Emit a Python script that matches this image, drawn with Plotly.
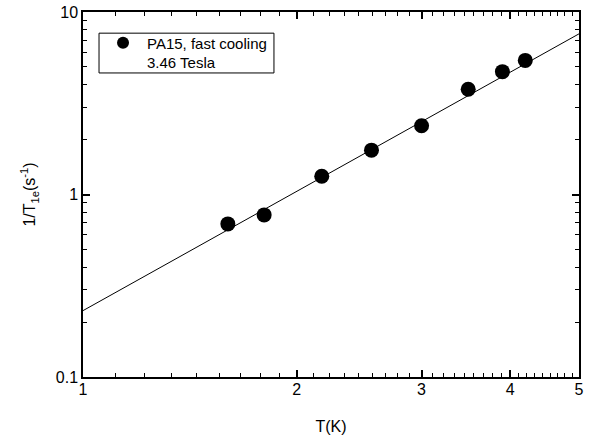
import numpy as np
import plotly.graph_objects as go

# Data
T_K = [1.60, 1.80, 2.17, 2.55, 3.00, 3.49, 3.90, 4.20]
rate = [0.69, 0.773, 1.26, 1.75, 2.38, 3.77, 4.71, 5.43]
series_name = "PA15, fast cooling<br>3.46 Tesla"

# Power-law fit line: rate = A * T^n
fit_A = 0.231
fit_n = 2.17
fit_T = np.linspace(1.0, 5.0, 200)
fit_rate = fit_A * fit_T ** fit_n

x_ticks = [1, 2, 3, 4, 5]
y_ticks = [0.1, 1, 10]
y_ticklabels = ["0.1", "1", "10"]

x_minor = [n + k / 9 for n in range(1, 5) for k in range(1, 9)]
y_minor = [k * 10.0 ** d for d in (-1, 0) for k in range(2, 10)]

font_family = "Liberation Sans, Arial, sans-serif"

fig = go.Figure()
fig.add_trace(go.Scatter(x=fit_T, y=fit_rate, mode="lines",
                         line=dict(color="black", width=1), showlegend=False,
                         hoverinfo="skip"))
fig.add_trace(go.Scatter(x=T_K, y=rate, mode="markers", name=series_name,
                         marker=dict(color="black", size=15, symbol="circle")))

axis_common = dict(
    type="log", showgrid=False, zeroline=False, automargin=False,
    showline=True, linecolor="black", linewidth=1.5,
    mirror="allticks", ticks="inside", ticklen=7, tickwidth=1.5, tickcolor="black",
    tickfont=dict(family=font_family, size=16, color="black"),
)

fig.update_xaxes(
    **axis_common,
    range=[0, np.log10(5)],
    tickmode="array", tickvals=x_ticks, ticktext=[str(v) for v in x_ticks],
    ticklabelstandoff=-3,
    minor=dict(tickmode="array", tickvals=x_minor, ticks="inside", ticklen=4,
               tickwidth=1.2, tickcolor="black", showgrid=False),
    title=dict(text="T(K)", font=dict(family=font_family, size=16, color="black"),
               standoff=24),
)
fig.update_yaxes(
    **axis_common,
    range=[-1, 1],
    tickmode="array", tickvals=y_ticks, ticktext=y_ticklabels,
    minor=dict(tickmode="array", tickvals=y_minor, ticks="inside", ticklen=4,
               tickwidth=1.2, tickcolor="black", showgrid=False),
    title=dict(text="1/T<sub>1e</sub>(s<sup>-1</sup>)",
               font=dict(family=font_family, size=16, color="black"), standoff=16),
)

# legend frame
fig.add_shape(type="rect", xref="paper", yref="paper",
              x0=0.0323, x1=0.385, y0=0.833, y1=0.942,
              line=dict(color="black", width=1), fillcolor="rgba(0,0,0,0)")

fig.update_layout(
    width=606, height=442,
    margin=dict(l=83, r=27, t=12, b=65),
    paper_bgcolor="white", plot_bgcolor="white",
    font=dict(family=font_family, color="black"),
    legend=dict(x=0.0323, y=0.96, xanchor="left", yanchor="top",
                borderwidth=0, bgcolor="rgba(0,0,0,0)",
                font=dict(family=font_family, size=15, color="black"),
                valign="top", itemsizing="constant", itemwidth=38),
)

fig.write_html("out.html",
               config={"displayModeBar": False},
               post_script="document.body.style.margin='0px';"
                           "document.body.style.overflow='hidden';")
